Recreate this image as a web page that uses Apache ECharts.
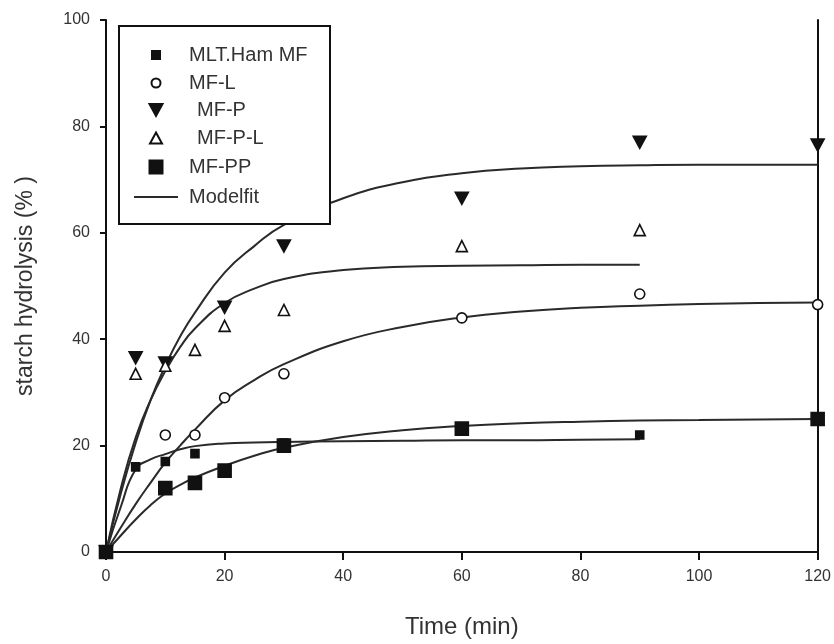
<!DOCTYPE html>
<html>
<head>
<meta charset="utf-8">
<script src="https://cdn.jsdelivr.net/npm/echarts@6/dist/echarts.min.js"></script>
<style>
  html, body { margin: 0; padding: 0; background: #ffffff; }
  #chart { width: 834px; height: 644px; }
</style>
</head>
<body>
<div id="chart"></div>
<script>
// Measured starch hydrolysis (%) against digestion time (min)
const mltTime   = [0, 5, 10, 15, 30, 90];
const mltValue  = [0, 16, 17, 18.5, 20.5, 22];
const mflTime   = [0, 10, 15, 20, 30, 60, 90, 120];
const mflValue  = [0, 22, 22, 29, 33.5, 44, 48.5, 46.5];
const mfpTime   = [0, 5, 10, 20, 30, 60, 90, 120];
const mfpValue  = [0, 36.5, 35.5, 46, 57.5, 66.5, 77, 76.5];
const mfplTime  = [0, 5, 10, 15, 20, 30, 60, 90];
const mfplValue = [0, 33.5, 35, 38, 42.5, 45.5, 57.5, 60.5];
const mfppTime  = [0, 10, 15, 20, 30, 60, 120];
const mfppValue = [0, 12, 13, 15.3, 20, 23.2, 25];

// Model fit curves, sampled on a common time grid
const fitTime  = [0, 2.5, 5, 7.5, 10, 12.5, 15, 20, 25, 30, 40, 50, 60, 70, 80, 90, 100, 110, 120];
const fitMfp   = [0, 11, 20.5, 28.5, 35, 40.5, 45, 52.5, 57.5, 61.5, 66.5, 69.5, 71.2, 72.1, 72.5, 72.7, 72.8, 72.8, 72.8];
const fitMfpl  = [0, 12, 21.5, 28.5, 34, 38.5, 42, 46.8, 49.5, 51.3, 53, 53.6, 53.8, 53.9, 54, 54];
const fitMfl   = [0, 4.6, 9, 13, 16.8, 20, 23, 28.5, 32.3, 35.3, 39.6, 42.3, 44.1, 45.2, 45.9, 46.3, 46.6, 46.8, 46.9];
const fitMfpp  = [0, 3.1, 6.1, 8.8, 11, 12.6, 14, 16.2, 18.1, 19.6, 21.6, 22.9, 23.7, 24.2, 24.5, 24.7, 24.8, 24.9, 25];
const fitMlt   = [0, 8.5, 15.5, 17.4, 18.4, 19.3, 19.9, 20.4, 20.6, 20.7, 20.8, 20.9, 21, 21, 21.1, 21.2];

// Axis ranges
const xRange = { min: 0, max: 120, step: 20 };
const yRange = { min: 0, max: 100, step: 20 };

const FONT = "'Liberation Sans', Arial, sans-serif";
const INK = '#111111';
const TEXT = '#333333';
const FIT_NAME = 'Modelfit';

const pairs = (xs, ys) => ys.map((y, i) => [xs[i], y]);
const downTriangle = 'path://M0,0L12,0L6,11Z';

const markerSeries = [
  { name: 'MLT.Ham MF', xs: mltTime,  ys: mltValue,  symbol: 'rect',       size: 8,        fill: INK,    border: INK },
  { name: 'MF-L',       xs: mflTime,  ys: mflValue,  symbol: 'circle',     size: 10,       fill: '#fff', border: INK },
  { name: 'MF-P',       xs: mfpTime,  ys: mfpValue,  symbol: downTriangle, size: [13, 12], fill: INK,    border: INK },
  { name: 'MF-P-L',     xs: mfplTime, ys: mfplValue, symbol: 'triangle',   size: 11,       fill: '#fff', border: INK },
  { name: 'MF-PP',      xs: mfppTime, ys: mfppValue, symbol: 'rect',       size: 13,       fill: INK,    border: INK }
];

const fitCurves = [fitMfp, fitMfpl, fitMfl, fitMfpp, fitMlt];

const series = [];
fitCurves.forEach(curve => {
  series.push({
    name: FIT_NAME,
    type: 'line',
    data: pairs(fitTime, curve),
    symbol: 'none',
    smooth: 0.5,
    lineStyle: { color: '#2a2a2a', width: 2 },
    itemStyle: { color: '#2a2a2a' },
    z: 2
  });
});
markerSeries.forEach(s => {
  series.push({
    name: s.name,
    type: 'scatter',
    data: pairs(s.xs, s.ys),
    symbol: s.symbol,
    symbolSize: s.size,
    itemStyle: { color: s.fill, borderColor: s.border, borderWidth: 1.6, opacity: 1 },
    z: 3
  });
});

// One legend per row so each symbol keeps its own size
const ICON_CENTER_X = 155;
const TEXT_START_X = 188;
const legendRows = [
  { name: 'MLT.Ham MF', y: 55,  w: 8,  h: 8,  extra: 0 },
  { name: 'MF-L',       y: 83,  w: 9,  h: 9,  extra: 0 },
  { name: 'MF-P',       y: 110, w: 13, h: 12, extra: 8 },
  { name: 'MF-P-L',     y: 138, w: 12, h: 11, extra: 8 },
  { name: 'MF-PP',      y: 167, w: 13, h: 13, extra: 0 },
  { name: FIT_NAME,     y: 197, w: 44, h: 2,  extra: 0 }
];
const legends = legendRows.map(r => {
  const left = ICON_CENTER_X - r.w / 2;
  const pad = TEXT_START_X + r.extra - (left + r.w + 5);
  return {
    data: [r.name],
    left: left,
    top: r.y - 12,
    itemWidth: r.w,
    itemHeight: r.h,
    padding: 0,
    itemGap: 0,
    z: 10,
    selectedMode: false,
    inactiveColor: INK,
    textStyle: { fontFamily: FONT, fontSize: 20, color: TEXT, padding: [0, 0, 0, pad], lineHeight: 24 }
  };
});

const chart = echarts.init(document.getElementById('chart'), null, { renderer: 'canvas' });
chart.setOption({
  animation: false,
  backgroundColor: '#ffffff',
  grid: { left: 106, right: 14, top: 20, bottom: 91, containLabel: false },
  graphic: [{
    type: 'rect',
    left: 118, top: 25, z: 5,
    shape: { width: 211, height: 198 },
    style: { fill: '#ffffff', stroke: INK, lineWidth: 2 }
  }],
  legend: legends,
  xAxis: {
    type: 'value',
    min: xRange.min, max: xRange.max, interval: xRange.step,
    name: 'Time (min)',
    nameLocation: 'middle',
    nameGap: 63,
    nameTextStyle: { fontFamily: FONT, fontSize: 24, color: TEXT },
    axisLine: { show: true, onZero: false, lineStyle: { color: INK, width: 2 } },
    axisTick: { show: true, inside: false, length: 8, lineStyle: { color: INK, width: 2 } },
    axisLabel: { fontFamily: FONT, fontSize: 16, color: TEXT, margin: 17 },
    splitLine: { show: false }
  },
  yAxis: [{
    type: 'value',
    min: yRange.min, max: yRange.max, interval: yRange.step,
    name: 'starch hydrolysis (% )',
    nameLocation: 'middle',
    nameGap: 69,
    nameTextStyle: { fontFamily: FONT, fontSize: 23, color: TEXT },
    axisLine: { show: true, onZero: false, lineStyle: { color: INK, width: 2 } },
    axisTick: { show: true, inside: false, length: 6, lineStyle: { color: INK, width: 2 } },
    axisLabel: { fontFamily: FONT, fontSize: 16, color: TEXT, margin: 16 },
    splitLine: { show: false }
  }, {
    type: 'value',
    position: 'right',
    min: yRange.min, max: yRange.max, interval: yRange.step,
    axisLine: { show: true, onZero: false, lineStyle: { color: INK, width: 2 } },
    axisTick: { show: false },
    axisLabel: { show: false },
    splitLine: { show: false }
  }],
  series: series
});
</script>
</body>
</html>
